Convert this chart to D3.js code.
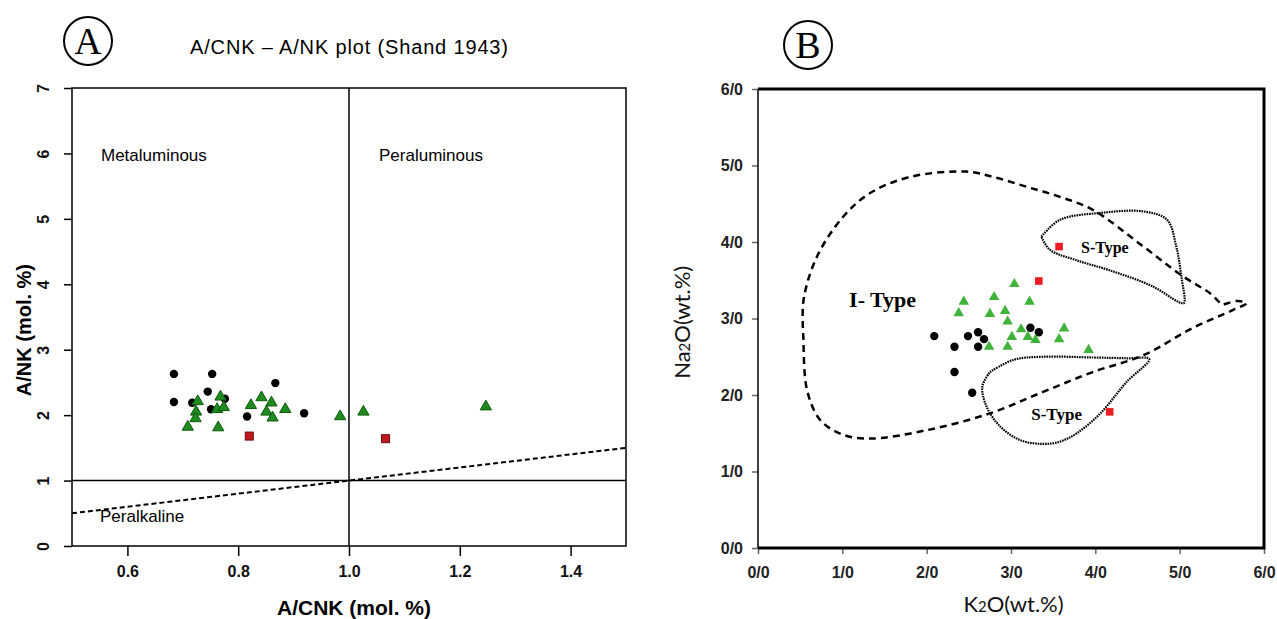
<!DOCTYPE html>
<html>
<head>
<meta charset="utf-8">
<script src="https://cdn.jsdelivr.net/npm/d3@7"></script>
<style>
body { margin: 0; background: #fff; }
svg { display: block; }
</style>
</head>
<body>
<div id="chart-area"></div>
<script>
// ---- panel A data: [A/CNK, A/NK]
var aTicksX = [0.6, 0.8, 1.0, 1.2, 1.4]
var aTicksY = [0, 1, 2, 3, 4, 5, 6, 7]
var aCircles = [[0.684, 2.63], [0.753, 2.63], [0.867, 2.49], [0.745, 2.36], [0.684, 2.20],
  [0.717, 2.19], [0.776, 2.25], [0.751, 2.09], [0.816, 1.98], [0.919, 2.03]]
var aTriangles = [[0.727, 2.21], [0.768, 2.28], [0.724, 2.05], [0.723, 1.95], [0.709, 1.82],
  [0.762, 2.09], [0.774, 2.12], [0.764, 1.81], [0.823, 2.15], [0.842, 2.27], [0.860, 2.19],
  [0.851, 2.05], [0.862, 1.96], [0.885, 2.09], [0.984, 1.98], [1.026, 2.05], [1.247, 2.13]]
var aSquares = [[0.820, 1.68], [1.066, 1.64]]
var aBoundary = [[0.5, 0.5], [1.5, 1.5]]

// ---- panel B data: [K2O, Na2O]
var bTicks = [0, 1, 2, 3, 4, 5, 6]
var bCircles = [[2.09, 2.77], [2.33, 2.63], [2.49, 2.77], [2.61, 2.82], [2.68, 2.73],
  [2.61, 2.63], [3.23, 2.88], [3.33, 2.82], [2.33, 2.30], [2.54, 2.03]]
var bTriangles = [[3.04, 3.45], [2.44, 3.22], [2.80, 3.28], [3.22, 3.22], [2.38, 3.07],
  [2.75, 3.06], [2.93, 3.10], [2.96, 2.96], [3.12, 2.86], [3.01, 2.76], [3.20, 2.76],
  [3.29, 2.72], [3.63, 2.87], [3.57, 2.73], [2.74, 2.63], [2.96, 2.63], [3.92, 2.59]]
var bSquares = [[3.33, 3.49], [3.57, 3.94], [4.17, 1.78]]
var iType = [[0.54, 2.72], [0.54, 3.24], [0.70, 3.81], [1.01, 4.33], [1.33, 4.64], [1.80, 4.85],
  [2.47, 4.92], [2.79, 4.85], [3.19, 4.72], [3.58, 4.59], [3.97, 4.42], [4.57, 3.94],
  [5.04, 3.55], [5.36, 3.33], [5.51, 3.18], [5.54, 3.19], [5.69, 3.23], [5.79, 3.20],
  [5.63, 3.11], [5.16, 2.88], [4.57, 2.52], [3.97, 2.30], [3.38, 2.04], [2.75, 1.76],
  [2.00, 1.54], [1.33, 1.43], [1.01, 1.48], [0.74, 1.67], [0.58, 2.07], [0.54, 2.72]]
var sTypeUpper = [[3.36, 4.07], [3.58, 4.29], [4.06, 4.38], [4.57, 4.40], [4.85, 4.29],
  [4.96, 3.94], [5.02, 3.55], [5.05, 3.20], [4.98, 3.22], [4.68, 3.42], [4.17, 3.63],
  [3.78, 3.76], [3.46, 3.90], [3.36, 4.07]]
var sTypeLower = [[2.75, 2.30], [3.03, 2.46], [3.38, 2.50], [3.98, 2.49], [4.37, 2.48],
  [4.64, 2.47], [4.37, 2.17], [4.06, 1.76], [3.78, 1.50], [3.58, 1.39], [3.38, 1.36],
  [3.11, 1.41], [2.87, 1.59], [2.71, 1.85], [2.66, 2.11], [2.75, 2.30]]

var svg = d3.select("#chart-area")
  .append("svg")
  .attr("width", 1277)
  .attr("height", 619)

function badge(cx, cy, letter) {
  svg.append("circle").attr("cx", cx).attr("cy", cy).attr("r", 24)
    .attr("fill", "none").attr("stroke", "#000").attr("stroke-width", 2)
  svg.append("text").attr("x", cx).attr("y", cy + 13)
    .attr("text-anchor", "middle")
    .style("font-family", "Liberation Serif, serif").style("font-size", "38px")
    .text(letter)
}

// ================= Panel A =================
var xA = d3.scaleLinear().domain([0.5, 1.5]).range([72, 626])
var yA = d3.scaleLinear().domain([0, 7]).range([546, 88])
var gA = svg.append("g").style("font-family", "Liberation Sans, Arial, sans-serif")

badge(88, 41, "A")
gA.append("text").attr("x", 190).attr("y", 54)
  .attr("textLength", 318).attr("lengthAdjust", "spacing")
  .style("font-size", "20px")
  .text("A/CNK – A/NK plot (Shand 1943)")

gA.append("g")
  .attr("transform", "translate(0,546)")
  .call(d3.axisBottom(xA).tickValues(aTicksX).tickSize(10).tickPadding(10).tickFormat(d3.format(".1f")))
  .call(g => g.select(".domain").remove())
  .call(g => g.selectAll("line").attr("stroke-width", 1.5))
  .call(g => g.selectAll("text").style("font-size", "16px").style("font-weight", "bold").attr("fill", "#111"))

gA.append("g")
  .attr("transform", "translate(72,0)")
  .call(d3.axisLeft(yA).tickValues(aTicksY).tickSize(8).tickFormat(d3.format("d")))
  .call(g => g.select(".domain").remove())
  .call(g => g.selectAll("line").attr("stroke-width", 1.5))
  .call(g => g.selectAll("text")
    .attr("x", 0).attr("y", -23).attr("dy", 0)
    .attr("text-anchor", "middle")
    .attr("transform", "rotate(-90)")
    .style("font-size", "16px").style("font-weight", "bold").attr("fill", "#111"))

gA.append("rect")
  .attr("x", xA(0.5)).attr("y", yA(7))
  .attr("width", xA(1.5) - xA(0.5)).attr("height", yA(0) - yA(7))
  .attr("fill", "none").attr("stroke", "#000").attr("stroke-width", 1.5)

gA.append("line").attr("x1", xA(0.5)).attr("x2", xA(1.5)).attr("y1", yA(1)).attr("y2", yA(1))
  .attr("stroke", "#000").attr("stroke-width", 1.5)
gA.append("line").attr("x1", xA(1)).attr("x2", xA(1)).attr("y1", yA(0)).attr("y2", yA(7))
  .attr("stroke", "#000").attr("stroke-width", 1.5)
gA.append("path")
  .attr("d", d3.line().x(d => xA(d[0])).y(d => yA(d[1]))(aBoundary))
  .attr("fill", "none").attr("stroke", "#000").attr("stroke-width", 2)
  .attr("stroke-dasharray", "5,3")

gA.append("text").attr("x", 101).attr("y", 161).style("font-size", "17px").text("Metaluminous")
gA.append("text").attr("x", 379).attr("y", 161).style("font-size", "17px").text("Peraluminous")
gA.append("text").attr("x", 100).attr("y", 522).style("font-size", "17px").text("Peralkaline")

gA.append("text")
  .attr("x", 354).attr("y", 615)
  .attr("text-anchor", "middle")
  .style("font-size", "21px").style("font-weight", "bold")
  .text("A/CNK (mol. %)")
gA.append("text")
  .attr("transform", "translate(31," + yA(3.3) + ") rotate(-90)")
  .attr("text-anchor", "middle")
  .style("font-size", "20px").style("font-weight", "bold")
  .text("A/NK (mol. %)")

gA.selectAll(".ac").data(aCircles).enter().append("circle")
  .attr("cx", d => xA(d[0])).attr("cy", d => yA(d[1])).attr("r", 4.2).attr("fill", "#000")
gA.selectAll(".at").data(aTriangles).enter().append("path")
  .attr("d", d3.symbol(d3.symbolTriangle, 55))
  .attr("transform", d => "translate(" + xA(d[0]) + "," + yA(d[1]) + ")")
  .attr("fill", "#1f8a1f").attr("stroke", "#0d5a0d").attr("stroke-width", 1)
gA.selectAll(".as").data(aSquares).enter().append("rect")
  .attr("x", d => xA(d[0]) - 4).attr("y", d => yA(d[1]) - 4)
  .attr("width", 8).attr("height", 8)
  .attr("fill", "#c0181c").attr("stroke", "#6a0c0c").attr("stroke-width", 1)

// ================= Panel B =================
var xB = d3.scaleLinear().domain([0, 6]).range([758, 1264])
var yB = d3.scaleLinear().domain([0, 6]).range([548, 89])
var gB = svg.append("g").style("font-family", "Lato, Open Sans, sans-serif")

badge(808, 45, "B")

gB.append("g")
  .attr("transform", "translate(0,548)")
  .call(d3.axisBottom(xB).tickValues(bTicks).tickSize(6).tickPadding(13).tickFormat(d => d + "/0"))
  .call(g => g.select(".domain").remove())
  .call(g => g.selectAll("line").attr("stroke", "#666").attr("stroke-width", 1.5))
  .call(g => g.selectAll("text").style("font-size", "16px").style("font-weight", "bold").attr("fill", "#222"))

gB.append("g")
  .attr("transform", "translate(758,0)")
  .call(d3.axisLeft(yB).tickValues(bTicks).tickSize(6).tickPadding(9).tickFormat(d => d + "/0"))
  .call(g => g.select(".domain").remove())
  .call(g => g.selectAll("line").attr("stroke", "#666").attr("stroke-width", 1.5))
  .call(g => g.selectAll("text").style("font-size", "16px").style("font-weight", "bold").attr("fill", "#222"))

// frame: thin left edge, heavy top / right / bottom
gB.append("line").attr("x1", xB(0)).attr("x2", xB(0)).attr("y1", yB(6)).attr("y2", yB(0))
  .attr("stroke", "#000").attr("stroke-width", 1.5)
gB.append("path")
  .attr("d", "M" + xB(0) + "," + yB(6) + "H" + xB(6) + "V" + yB(0) + "H" + xB(0))
  .attr("fill", "none").attr("stroke", "#000").attr("stroke-width", 3)

var lineB = d3.line().x(d => xB(d[0])).y(d => yB(d[1])).curve(d3.curveCatmullRom.alpha(0.5))
gB.append("path").attr("d", lineB(iType))
  .attr("fill", "none").attr("stroke", "#000").attr("stroke-width", 2.5)
  .attr("stroke-dasharray", "7,5")
gB.selectAll(".st").data([sTypeUpper, sTypeLower]).enter().append("path")
  .attr("d", d => lineB(d))
  .attr("fill", "none").attr("stroke", "#000").attr("stroke-width", 2.2)
  .attr("stroke-dasharray", "1.6,0.9")

gB.append("text").attr("x", xB(1.08)).attr("y", yB(3.15))
  .style("font-family", "Liberation Serif, serif").style("font-size", "22px").style("font-weight", "bold")
  .text("I- Type")
gB.append("text").attr("x", xB(3.83)).attr("y", yB(3.86))
  .style("font-family", "Liberation Serif, serif").style("font-size", "16px").style("font-weight", "bold")
  .text("S-Type")
gB.append("text").attr("x", xB(3.24)).attr("y", yB(1.67))
  .style("font-family", "Liberation Serif, serif").style("font-size", "17px").style("font-weight", "bold")
  .text("S-Type")

var kLabel = gB.append("text").attr("x", xB(3.03)).attr("y", 612).attr("text-anchor", "middle")
  .style("font-size", "22px").attr("fill", "#111")
kLabel.append("tspan").text("K")
kLabel.append("tspan").style("font-size", "15px").text("2")
kLabel.append("tspan").text("O(wt.%)")

var nLabel = gB.append("text")
  .attr("transform", "translate(690," + yB(2.95) + ") rotate(-90)")
  .attr("text-anchor", "middle")
  .style("font-size", "22px").attr("fill", "#111")
nLabel.append("tspan").text("Na")
nLabel.append("tspan").style("font-size", "15px").text("2")
nLabel.append("tspan").text("O(wt.%)")

gB.selectAll(".bc").data(bCircles).enter().append("circle")
  .attr("cx", d => xB(d[0])).attr("cy", d => yB(d[1])).attr("r", 4.2).attr("fill", "#000")
gB.selectAll(".bt").data(bTriangles).enter().append("path")
  .attr("d", d3.symbol(d3.symbolTriangle, 48))
  .attr("transform", d => "translate(" + xB(d[0]) + "," + yB(d[1]) + ")")
  .attr("fill", "#3fb33a")
gB.selectAll(".bs").data(bSquares).enter().append("rect")
  .attr("x", d => xB(d[0]) - 3.8).attr("y", d => yB(d[1]) - 3.8)
  .attr("width", 7.6).attr("height", 7.6)
  .attr("fill", "#ec1c24")
</script>
</body>
</html>
